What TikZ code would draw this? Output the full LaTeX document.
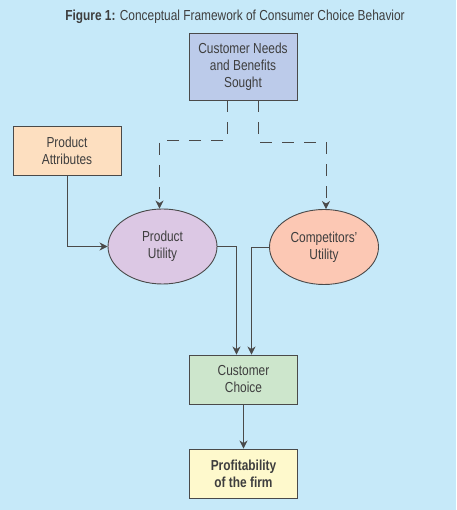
\documentclass[tikz,border=0pt]{standalone}
\usepackage{fontspec}
\setmainfont{Liberation Sans}[FakeStretch=0.82]
\usetikzlibrary{arrows.meta, shapes.geometric}
\definecolor{bgblue}{HTML}{C6E9F9}
\definecolor{linegray}{HTML}{4A4A4A}
\definecolor{textgray}{HTML}{3E3E3E}
\definecolor{needsfill}{HTML}{BCCBEA}
\definecolor{attrfill}{HTML}{FDDFC0}
\definecolor{prodfill}{HTML}{DCC8E4}
\definecolor{compfill}{HTML}{FCC8B4}
\definecolor{choicefill}{HTML}{CDE6CC}
\definecolor{profitfill}{HTML}{FEF9CC}
\tikzset{box/.style = {shape = rectangle, draw = linegray, line width = 0.9pt, minimum width = 108pt, minimum height = 49pt, align = center, text = textgray, font = \fontsize{14.5}{17}\selectfont}}
\tikzset{utility/.style = {shape = ellipse, draw = linegray, line width = 0.9pt, minimum width = 109pt, minimum height = 75pt, inner sep = 0pt, align = center, text = textgray, font = \fontsize{14.5}{17}\selectfont}}
\tikzset{edge/.style = {-{Stealth[length = 8pt, width = 8pt, inset = 2.5pt]}, draw = linegray, line width = 0.9pt}}
\tikzset{dashededge/.style = {edge, dash pattern = on 12pt off 10pt}}

\begin{document}
\begin{tikzpicture}[x = 1pt, y = 1pt]
				\fill[bgblue] (0, 0) rectangle (456, 510);
				\useasboundingbox (0, 0) rectangle (456, 510);

				\node[text = textgray, font = \fontsize{14.5}{17}\selectfont] (title) at (235, 493) {\textbf{Figure 1:} Conceptual Framework of Consumer Choice Behavior};

				\node[box, fill = needsfill, minimum height = 67pt] (needs) at (243, 443.5) {Customer Needs\\and Benefits\\Sought};
				\node[box, fill = attrfill] (attr) at (67, 359.5) {Product\\Attributes};
				\node[utility, fill = prodfill] (pu) at (162.5, 263.5) {Product\\Utility};
				\node[utility, fill = compfill] (cu) at (324, 263) {Competitors'\\Utility};
				\node[box, fill = choicefill] (choice) at (243.5, 130.5) {Customer\\Choice};
				\node[box, fill = profitfill, font = \fontsize{14.5}{17}\selectfont\bfseries] (profit) at (243.5, 36.5) {Profitability\\of the firm};

				\draw[dashededge] ([xshift = -16pt]needs.south) -- ++(0, -40) -| ([xshift = -3pt]pu.north);
				\draw[dashededge] ([xshift = 15pt]needs.south) -- ++(0, -42) -| ([xshift = 2pt]cu.north);
				\draw[edge] (attr.south) |- (pu.west);
				\draw[edge] (pu.east) -| ([xshift = -7pt]choice.north);
				\draw[edge] (cu.west) -| ([xshift = 8pt]choice.north);
				\draw[edge] (choice.south) -- (profit.north);
			\end{tikzpicture}
\end{document}
